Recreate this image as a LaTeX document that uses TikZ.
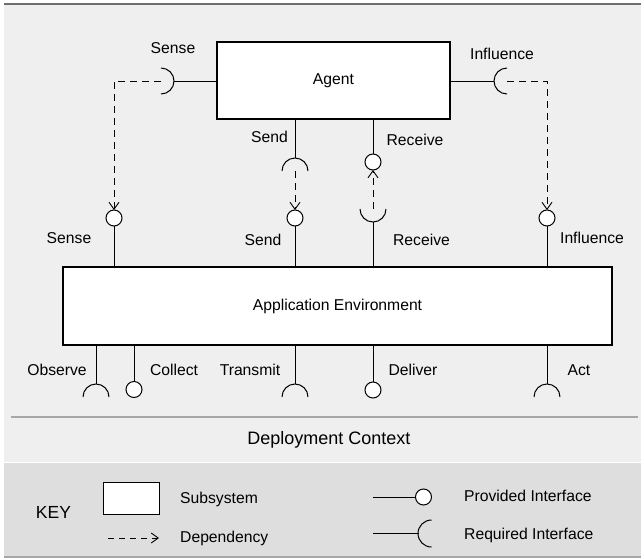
\documentclass[tikz,border=0pt]{standalone}
\usepackage{fontspec}
\setmainfont{Liberation Sans}
\usetikzlibrary{arrows.meta}

\definecolor{panelgray}{HTML}{EFEFEF}
\definecolor{keygray}{HTML}{DEDEDE}
\definecolor{rulegray}{HTML}{A6A6A6}
\definecolor{edgegray}{HTML}{6E6E6E}

\tikzset{
  x=1pt, y=1pt,
  lbl/.style={font=\fontsize{15.7}{18}\selectfont, inner sep=0pt},
  keylbl/.style={lbl, anchor=west},
  subsys/.style={draw=black, fill=white, line width=1.1pt, inner sep=0pt, outer sep=0pt},
  prov/.style={circle, draw=black, fill=white, line width=1pt, minimum size=16pt, inner sep=0pt, outer sep=0pt},
  wire/.style={draw=black, line width=1pt},
  socket/.style={draw=black, line width=1pt},
  dep/.style={draw=black, line width=0.9pt, dash pattern=on 7pt off 5pt,
              -{Straight Barb[length=7pt,width=10pt,line width=0.9pt]}},
}

\begin{document}
\begin{tikzpicture}
  \useasboundingbox (0,0) rectangle (641,-558);

  % panels
  \fill[panelgray] (4,-4) rectangle (641,-462);
  \fill[keygray] (4,-462) rectangle (641,-557);
  \draw[white, line width=0.8pt] (4,-462.4) -- (641,-462.4);
  \draw[edgegray, line width=2pt] (4,-4) -- (641,-4);
  \draw[rulegray, line width=1.2pt] (4,-557) -- (641,-557);
  \draw[rulegray, line width=1.4pt] (11,-417) -- (638,-417);

  % subsystems
  \node[subsys, minimum width=233pt, minimum height=77pt, lbl] (agent) at (333.5,-80.5) {Agent};
  \node[subsys, minimum width=549pt, minimum height=78pt, lbl] (env) at (337.5,-306) {Application Environment};

  % ---- Sense: agent requires, environment provides
  \coordinate (senseReqC) at (161,-81);
  \coordinate (senseReqTip) at (174,-81);
  \node[prov] (senseProv) at (114,-218) {};
  \draw[wire] (agent.west |- senseReqC) -- (senseReqTip);
  \draw[socket] (161,-68) arc[start angle=90, end angle=-90, radius=13];
  \draw[dep] (senseReqC) -| (senseProv.north);
  \draw[wire] (senseProv.south) -- (senseProv.south |- env.north);

  % ---- Send: agent requires, environment provides
  \coordinate (sendReqC) at (295,-171);
  \coordinate (sendReqTip) at (295,-158);
  \node[prov] (sendProv) at (295,-218) {};
  \draw[wire] (agent.south -| sendReqC) -- (sendReqTip);
  \draw[socket] (308,-171) arc[start angle=0, end angle=180, radius=13];
  \draw[dep] (sendReqC) -- (sendProv.north);
  \draw[wire] (sendProv.south) -- (sendProv.south |- env.north);

  % ---- Receive: agent provides, environment requires
  \node[prov] (recvProv) at (373,-162) {};
  \coordinate (recvReqC) at (373,-209);
  \coordinate (recvReqTip) at (373,-222);
  \draw[wire] (agent.south -| recvProv) -- (recvProv.north);
  \draw[socket] (360,-209) arc[start angle=180, end angle=360, radius=13];
  \draw[dep] (recvReqC) -- (recvProv.south);
  \draw[wire] (recvReqTip) -- (recvReqTip |- env.north);

  % ---- Influence: agent requires, environment provides
  \coordinate (inflReqC) at (507,-81);
  \coordinate (inflReqTip) at (494,-81);
  \node[prov] (inflProv) at (547,-218) {};
  \draw[wire] (agent.east |- inflReqC) -- (inflReqTip);
  \draw[socket] (507,-68) arc[start angle=90, end angle=270, radius=13];
  \draw[dep] (inflReqC) -| (inflProv.north);
  \draw[wire] (inflProv.south) -- (inflProv.south |- env.north);

  % interface labels between agent and environment
  \node[lbl] (tSenseA) at (173,-48) {Sense};
  \node[lbl] (tSendA) at (269.5,-137) {Send};
  \node[lbl] (tRecvA) at (415,-140) {Receive};
  \node[lbl] (tInflA) at (502,-54) {Influence};
  \node[lbl] (tSenseE) at (69,-238.5) {Sense};
  \node[lbl] (tSendE) at (263,-240) {Send};
  \node[lbl] (tRecvE) at (421.5,-240) {Receive};
  \node[lbl] (tInflE) at (592,-238) {Influence};

  % ---- interfaces towards the deployment context
  \coordinate (obsTip) at (96,-384);
  \draw[wire] (env.south -| obsTip) -- (obsTip);
  \draw[socket] (109,-397) arc[start angle=0, end angle=180, radius=13];

  \node[prov] (collProv) at (134,-389.5) {};
  \draw[wire] (env.south -| collProv) -- (collProv.north);

  \coordinate (transTip) at (295,-384);
  \draw[wire] (env.south -| transTip) -- (transTip);
  \draw[socket] (308,-397) arc[start angle=0, end angle=180, radius=13];

  \node[prov] (delProv) at (373,-390) {};
  \draw[wire] (env.south -| delProv) -- (delProv.north);

  \coordinate (actTip) at (547,-384);
  \draw[wire] (env.south -| actTip) -- (actTip);
  \draw[socket] (560,-397) arc[start angle=0, end angle=180, radius=13];

  \node[lbl] (tObs) at (57,-370) {Observe};
  \node[lbl] (tColl) at (174,-370) {Collect};
  \node[lbl] (tTrans) at (250,-370) {Transmit};
  \node[lbl] (tDel) at (413,-370) {Deliver};
  \node[lbl] (tAct) at (579,-370) {Act};

  \node[inner sep=0pt, font=\fontsize{18}{21}\selectfont] (ctx) at (329,-440) {Deployment Context};

  % ---- key
  \node[inner sep=0pt, font=\fontsize{17.5}{20}\selectfont] (keyt) at (53.5,-512) {KEY};
  \node[subsys, line width=0.9pt, minimum width=56pt, minimum height=32pt] (keybox) at (131,-498) {};
  \node[keylbl] (tSub) at (180,-499) {Subsystem};
  \coordinate (depA) at (108,-538);
  \coordinate (depB) at (159,-538);
  \draw[dep, dash pattern=on 6pt off 5pt] (depA) -- (depB);
  \node[keylbl] (tDep) at (180,-538) {Dependency};

  \coordinate (provA) at (373,-497);
  \node[prov] (keyProv) at (423.5,-497) {};
  \draw[wire] (provA) -- (keyProv.west);
  \node[keylbl] (tProv) at (464,-496) {Provided Interface};

  \coordinate (reqA) at (373,-533.5);
  \coordinate (reqTip) at (418.5,-533.5);
  \draw[wire] (reqA) -- (reqTip);
  \draw[socket] (431.5,-520) arc[start angle=90, end angle=270, radius=13.5];
  \node[keylbl] (tReq) at (464,-535) {Required Interface};
\end{tikzpicture}
\end{document}
